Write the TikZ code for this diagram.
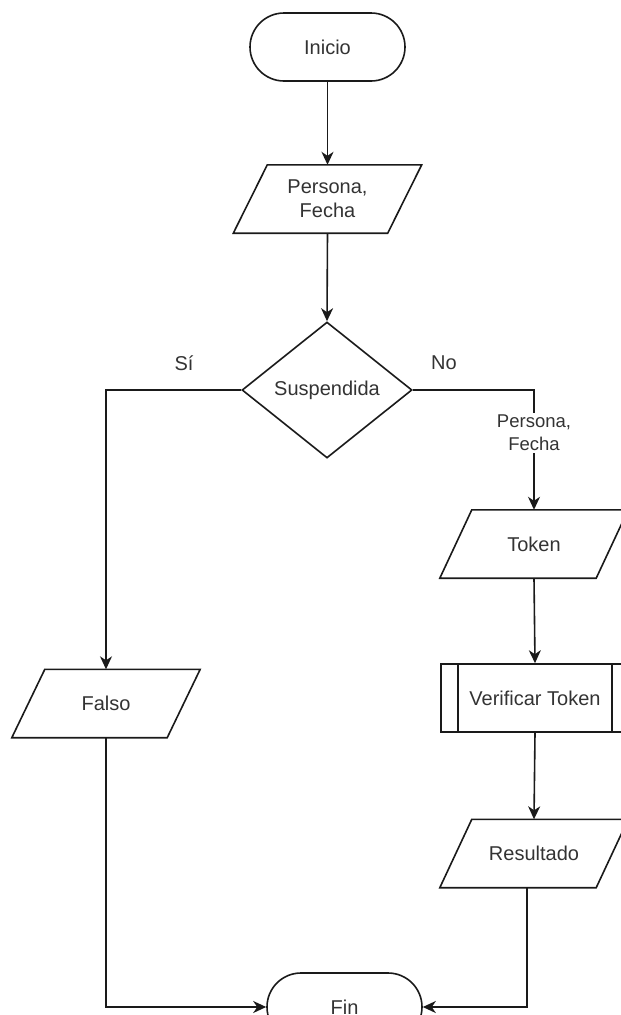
\documentclass[tikz,border=0pt]{standalone}
\usepackage{fontspec}
\setmainfont{Liberation Sans}
\usetikzlibrary{arrows.meta,shapes.geometric}
\definecolor{ink}{HTML}{1A1A1A}
\definecolor{txt}{HTML}{333333}
% slanted input/output frame drawn over an invisible node
\newcommand\ioframe[2]{%
  \draw[line] (#1.south west) -- ([xshift=#2]#1.north west) --
    (#1.north east) -- ([xshift=-#2]#1.south east) -- cycle;}
\begin{document}
\begin{tikzpicture}[x=1pt,y=1pt,
  line/.style={draw=ink, line width=1.6pt},
  flow/.style={line, -{Stealth[length=13pt,width=12pt,inset=4pt]}},
  lbl/.style={font=\fontsize{20}{24}\selectfont, text=txt, align=center},
  terminal/.style={lbl, line, rounded corners=34pt, minimum width=155pt,
    minimum height=68pt, inner sep=0pt},
  iobox/.style={lbl, minimum width=188pt, minimum height=68pt, inner sep=0pt},
  decision/.style={lbl, line, diamond, minimum width=170pt,
    minimum height=136pt, inner sep=0pt},
  process/.style={lbl, line, minimum width=188pt, minimum height=68pt,
    inner sep=0pt},
  edgelbl/.style={font=\fontsize{18.5}{23}\selectfont, text=txt,
    align=center, fill=white, inner sep=2pt}
]
\clip (0,0) rectangle (621,-1015);

% shapes
\node[terminal] (ini) at (327.5,-47) {Inicio};
\node[iobox] (p1) at (327.5,-199) {Persona,\\Fecha};
\ioframe{p1}{34pt}
\node[decision] (dec) at (327,-390) {Suspendida};
\node[iobox] (falso) at (106,-703.5) {Falso};
\ioframe{falso}{33pt}
\node[iobox] (tok) at (534,-544) {Token};
\ioframe{tok}{32pt}
\node[process] (ver) at (535,-698) {Verificar Token};
\draw[line] ([xshift=18pt]ver.north west) -- ([xshift=18pt]ver.south west);
\draw[line] ([xshift=-18pt]ver.north east) -- ([xshift=-18pt]ver.south east);
\node[iobox] (res) at (534,-853.5) {Resultado};
\ioframe{res}{32pt}
\node[terminal] (fin) at (344.5,-1007) {Fin};

% branch labels
\node[lbl] (lsi) at (184,-363) {Sí};
\node[lbl] (lno) at (444,-363) {No};

% connectors
\draw[flow] (ini.south) -- (p1.north);
\draw[flow] (p1.south) -- (dec.north);
\draw[flow] (dec.west) -| (falso.north);
\draw[flow] (dec.east) -| node[edgelbl, pos=0.68] {Persona,\\Fecha} (tok.north);
\draw[flow] (tok.south) -- (ver.north);
\draw[flow] (ver.south) -- (res.north);
\draw[flow] (falso.south) |- (fin.west);
\draw[flow] ([xshift=-7pt]res.south) |- (fin.east);
\end{tikzpicture}
\end{document}
